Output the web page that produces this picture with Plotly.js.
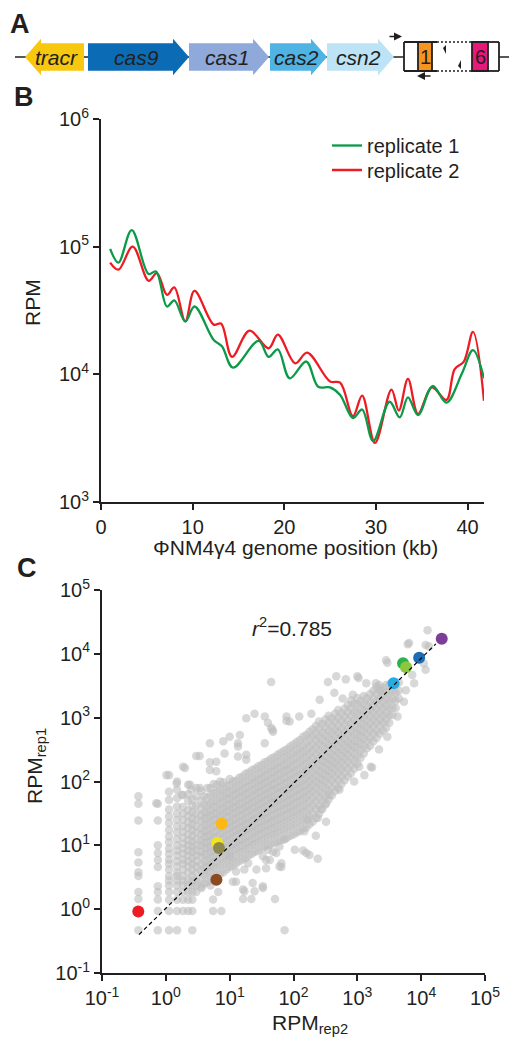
<!DOCTYPE html>
<html><head><meta charset="utf-8">
<script src="https://cdn.plot.ly/plotly-3.0.1.min.js"></script>
<style>html,body{margin:0;padding:0;background:#fff;}#chart{width:517px;height:1050px;}</style>
</head><body><div id="chart"></div>
<script>
// ================= DATA =================
// Panel A: type II-A CRISPR locus (map units)
const geneNames = ['tracr', 'cas9', 'cas1', 'cas2', 'csn2'];
const geneStart = [25, 88, 189, 270, 327];
const geneEnd = [84, 189, 269, 327, 394];
const geneStrand = [-1, 1, 1, 1, 1];
const geneColors = ['#F8C70F', '#0B6CB5', '#8EA9DA', '#4FB3E4', '#BCE3F6'];
const locusStart = 15, locusEnd = 509;
const arrayStart = 404, arrayEnd = 499;
const arrayGapStart = 437, arrayGapEnd = 471;
const spacerLabels = ['1', '6'];
const spacerStart = [418, 472];
const spacerEnd = [432, 488];
const spacerColors = ['#F7941D', '#E6197B'];
const primerFwd = [388, 402];
const primerRev = [432, 417];

// Panel B: coverage along phage genome (kb, RPM)
const rep1Kb = [1.0,1.9,3.35,5.2,6.0,7.2,8.0,9.2,10.2,12.3,13.2,14.4,17.2,18.3,19.3,20.6,22.4,23.7,25.0,26.1,27.5,28.5,29.7,31.5,32.6,33.5,34.6,36.2,37.7,39.4,40.6,41.8];
const rep1Rpm = [96000,75000,135000,61000,64000,34000,38000,26000,34000,18600,16600,11300,18300,13700,15700,9300,12600,8000,7900,6900,4550,5300,3000,6100,4600,6600,4800,8100,6000,10200,15500,9300];
const rep2Kb = [1.0,1.9,3.46,5.2,6.1,7.2,8.0,9.2,10.2,12.3,13.1,14.3,16.2,18.3,19.3,21.2,22.5,25.0,26.1,27.5,28.5,29.9,31.7,32.5,33.5,34.6,36.1,37.7,38.6,39.6,40.6,41.8];
const rep2Rpm = [75000,66000,100000,54000,62000,42000,48000,26000,45000,24500,25000,13700,22000,16000,20500,12200,14800,8800,8600,4700,6800,2900,7600,5200,9200,4900,7900,6300,11000,12600,21500,6200];
const xTicksB = [0, 10, 20, 30, 40];
const yTickValsB = [1e3, 1e4, 1e5, 1e6];
const yTickTextB = ['10<sup>3</sup>', '10<sup>4</sup>', '10<sup>5</sup>', '10<sup>6</sup>'];

// Panel C: spacer RPM, replicate 2 (x) vs replicate 1 (y), read in log10(RPM)
// low-count points sit in discrete columns of rep2
const colLog2 = [-0.43, -0.125, 0.05, 0.176, 0.27, 0.35, 0.415, 0.477];
const colLog1 = [
  [-0.33,0.16,0.27,0.52,0.58,0.73,0.89,1.39,1.65,1.77],
  [-0.33,-0.03,0.15,0.27,0.36,0.66,0.77,0.88,1.0,1.39,1.65],
  [-0.33,-0.03,0.146,0.27,0.37,0.45,0.52,0.62,0.71,0.78,0.87,0.95,1.05,1.14,1.24,1.35,1.45,1.56,1.71,1.84,2.10],
  [-0.33,-0.03,0.146,0.27,0.37,0.45,0.52,0.57,0.67,0.75,0.84,0.92,1.0,1.1,1.2,1.3,1.4,1.5,1.61,1.74,1.87,2.0],
  [-0.03,0.146,0.27,0.37,0.45,0.52,0.62,0.71,0.78,0.87,0.95,1.03,1.12,1.21,1.3,1.4,1.5,1.6,1.79,2.23],
  [0.146,0.27,0.37,0.45,0.57,0.67,0.75,0.84,0.92,1.0,1.08,1.17,1.27,1.36,1.46,1.55,1.7,1.8,1.95],
  [-0.33,0.146,0.27,0.37,0.45,0.52,0.62,0.71,0.8,0.9,0.98,1.06,1.15,1.24,1.33,1.42,1.52,1.62,1.72],
  [0.27,0.37,0.45,0.57,0.67,0.75,0.84,0.92,1.0,1.1,1.2,1.3,1.4,1.5,1.62,1.77,1.9,2.4]
];
// dense cloud, read slice by slice along rep2
const sliceLog2 = [0.55,0.60,0.65,0.70,0.75,0.80,0.85,0.90,0.95,1.00,1.05,1.10,1.15,1.20,1.25,1.30,1.35,1.40,1.45,1.50,1.55,1.60,1.65,1.70,1.75,1.80,1.85,1.90,1.95,2.00,2.05,2.10,2.15,2.20,2.25,2.30,2.35,2.40,2.45,2.50,2.55,2.60,2.65,2.70,2.75,2.80,2.85,2.90,2.95,3.00,3.05,3.10,3.15,3.20,3.25,3.30,3.35,3.40,3.45,3.50,3.55,3.60,3.65];
const sliceLog1 = [
  [0.35,0.47,0.6,0.7,0.82,0.9,1.0,1.08,1.18,1.27,1.38,1.47,1.58,1.7,1.85],
  [0.4,0.53,0.64,0.75,0.86,0.96,1.04,1.13,1.22,1.32,1.42,1.52,1.64,1.77],
  [0.42,0.55,0.66,0.76,0.86,0.95,1.05,1.14,1.23,1.33,1.43,1.52,1.63,1.75,1.9],
  [0.45,0.58,0.69,0.8,0.9,0.98,1.07,1.16,1.26,1.36,1.46,1.55,1.66,1.78,1.9],
  [0.5,0.63,0.74,0.83,0.92,1.02,1.12,1.2,1.3,1.4,1.5,1.6,1.7,1.82,1.96],
  [0.52,0.64,0.75,0.86,0.96,1.04,1.13,1.22,1.32,1.41,1.5,1.6,1.71,1.83,1.95],
  [0.55,0.68,0.8,0.9,1.0,1.08,1.18,1.27,1.36,1.46,1.55,1.65,1.76,1.88,2.0],
  [0.58,0.71,0.82,0.92,1.02,1.11,1.2,1.3,1.39,1.49,1.58,1.67,1.77,1.88,1.99],
  [0.62,0.75,0.86,0.96,1.06,1.15,1.25,1.34,1.44,1.53,1.62,1.72,1.82,1.93],
  [0.66,0.78,0.89,0.99,1.09,1.18,1.27,1.36,1.45,1.55,1.64,1.73,1.83,1.94,2.04],
  [0.68,0.8,0.92,1.02,1.12,1.22,1.31,1.4,1.5,1.59,1.68,1.78,1.88,2.0],
  [0.72,0.84,0.95,1.05,1.15,1.24,1.33,1.42,1.51,1.61,1.7,1.8,1.9,2.01],
  [0.75,0.88,0.98,1.08,1.18,1.27,1.36,1.46,1.55,1.64,1.74,1.84,1.94,2.06],
  [0.78,0.9,1.0,1.1,1.2,1.29,1.38,1.48,1.57,1.66,1.76,1.86,1.96,2.08],
  [0.8,0.93,1.04,1.14,1.24,1.33,1.42,1.52,1.61,1.7,1.8,1.9,2.0,2.12],
  [0.84,0.96,1.06,1.16,1.26,1.35,1.44,1.54,1.63,1.72,1.82,1.92,2.02,2.14],
  [0.87,1.0,1.1,1.2,1.3,1.39,1.48,1.58,1.67,1.76,1.86,1.96,2.06,2.18],
  [0.9,1.02,1.12,1.22,1.32,1.41,1.51,1.6,1.69,1.79,1.88,1.98,2.08,2.2],
  [0.92,1.05,1.16,1.26,1.36,1.45,1.55,1.64,1.73,1.83,1.92,2.02,2.12,2.24],
  [0.95,1.07,1.18,1.28,1.38,1.47,1.57,1.66,1.75,1.85,1.94,2.04,2.14,2.26],
  [0.98,1.1,1.21,1.31,1.41,1.51,1.6,1.7,1.79,1.88,1.98,2.08,2.18,2.3],
  [1.0,1.12,1.23,1.33,1.43,1.53,1.62,1.72,1.81,1.91,2.0,2.1,2.2,2.32],
  [1.02,1.15,1.26,1.36,1.46,1.56,1.66,1.75,1.85,1.94,2.04,2.14,2.24,2.36],
  [1.04,1.16,1.27,1.38,1.48,1.58,1.68,1.77,1.87,1.96,2.06,2.16,2.26,2.38],
  [1.06,1.19,1.3,1.41,1.51,1.61,1.71,1.81,1.9,2.0,2.1,2.2,2.3,2.42],
  [1.08,1.2,1.32,1.43,1.53,1.63,1.73,1.83,1.92,2.02,2.12,2.22,2.33,2.45],
  [1.1,1.23,1.35,1.46,1.56,1.66,1.76,1.86,1.96,2.06,2.16,2.26,2.37,2.48],
  [1.12,1.25,1.37,1.48,1.58,1.68,1.78,1.88,1.98,2.08,2.18,2.28,2.39,2.51],
  [1.15,1.28,1.4,1.51,1.61,1.71,1.81,1.91,2.01,2.11,2.21,2.32,2.43,2.55],
  [1.17,1.3,1.42,1.53,1.64,1.74,1.84,1.94,2.04,2.14,2.24,2.35,2.46,2.58],
  [1.2,1.33,1.45,1.56,1.67,1.77,1.87,1.97,2.07,2.17,2.28,2.39,2.5,2.62],
  [1.22,1.35,1.47,1.58,1.69,1.79,1.89,1.99,2.1,2.2,2.31,2.42,2.53,2.65],
  [1.26,1.39,1.51,1.62,1.73,1.83,1.93,2.03,2.13,2.24,2.35,2.46,2.57,2.7],
  [1.28,1.41,1.53,1.64,1.75,1.85,1.95,2.05,2.16,2.27,2.38,2.49,2.61,2.73],
  [1.33,1.46,1.58,1.69,1.8,1.9,2.0,2.1,2.21,2.32,2.43,2.54,2.66,2.78],
  [1.37,1.5,1.62,1.73,1.84,1.94,2.04,2.14,2.25,2.36,2.47,2.58,2.7,2.82],
  [1.43,1.56,1.68,1.79,1.9,2.0,2.1,2.2,2.31,2.42,2.53,2.64,2.75,2.87],
  [1.49,1.62,1.74,1.85,1.96,2.06,2.16,2.26,2.37,2.48,2.59,2.7,2.82,2.94],
  [1.57,1.7,1.82,1.93,2.03,2.13,2.23,2.33,2.44,2.55,2.66,2.77,2.9],
  [1.64,1.77,1.89,2.0,2.1,2.2,2.3,2.4,2.51,2.62,2.73,2.85,2.97],
  [1.72,1.85,1.96,2.07,2.17,2.27,2.37,2.47,2.58,2.69,2.8,2.92,3.03],
  [1.78,1.9,2.02,2.13,2.23,2.33,2.43,2.54,2.65,2.76,2.87,2.99],
  [1.85,1.97,2.08,2.19,2.29,2.39,2.49,2.6,2.71,2.82,2.94,3.06],
  [1.9,2.02,2.13,2.24,2.34,2.45,2.55,2.66,2.77,2.88,3.0,3.12],
  [1.96,2.08,2.19,2.3,2.4,2.5,2.61,2.72,2.83,2.95,3.07],
  [2.02,2.14,2.25,2.36,2.46,2.57,2.67,2.78,2.9,3.02,3.14],
  [2.08,2.2,2.31,2.42,2.52,2.62,2.73,2.84,2.96,3.08,3.2],
  [2.13,2.25,2.37,2.48,2.58,2.69,2.8,2.91,3.03,3.15,3.27],
  [2.2,2.32,2.43,2.54,2.64,2.75,2.86,2.97,3.09,3.22],
  [2.28,2.4,2.52,2.63,2.74,2.85,2.96,3.08,3.2,3.31],
  [2.37,2.49,2.6,2.71,2.81,2.92,3.03,3.14,3.26],
  [2.44,2.56,2.67,2.78,2.89,3.0,3.11,3.22,3.34],
  [2.52,2.64,2.75,2.86,2.97,3.08,3.19,3.31],
  [2.56,2.68,2.8,2.91,3.02,3.13,3.25,3.37],
  [2.63,2.75,2.86,2.97,3.08,3.19,3.3,3.42],
  [2.68,2.8,2.92,3.03,3.14,3.25,3.37,3.48],
  [2.75,2.87,2.98,3.09,3.2,3.31,3.43],
  [2.8,2.92,3.03,3.14,3.25,3.36,3.47],
  [2.84,2.96,3.07,3.18,3.29,3.4,3.51],
  [2.92,3.04,3.16,3.28,3.4,3.52],
  [3.04,3.16,3.28,3.4,3.52],
  [3.15,3.27,3.39,3.5],
  [3.3,3.42,3.55]
];
// scattered individual points (log10 rep2, log10 rep1)
const looseLog2 = [1.65,2.54,2.67,2.82,3.00,3.02,2.41,2.64,2.77,2.93,3.14,3.29,3.34,3.37,3.45,3.47,3.81,4.07,4.10,3.79,4.12,4.04,4.07,3.86,3.89,3.76,3.73,3.63,3.47,3.34,3.21,2.95,3.11,3.03,3.23,
  1.26,1.39,1.89,1.94,2.09,2.28,1.65,1.68,0.69,0.90,1.00,1.16,0.53,0.69,0.30,0.01,0.17,0.40,-0.15,0.25,0.79,0.79,0.92,1.13,1.13,1.13,1.26,1.26,1.55,1.60,1.67,1.55,1.89,0.53,0.69,0.38,
  2.72,2.56,2.51,2.43,2.51,2.38,2.22,2.17,2.35,2.02,2.15,2.25,2.38,1.86,1.78,1.73,1.60,1.52,1.63,1.81,1.78,1.71,1.86,0.74,0.87,1.21,1.34,1.05,1.21,1.36,1.52,2.20,1.00,1.10,1.23,1.29,1.42,1.57,1.57,1.81,1.23,1.39,1.52,1.10,0.56,1.68,0.74,0.82,0.70,0.35,0.415];
const looseLog1 = [3.56,3.56,3.65,3.60,3.65,3.62,3.28,3.39,3.30,3.36,3.54,3.54,3.51,3.43,3.90,3.86,4.17,4.14,4.37,4.15,4.12,3.85,3.75,3.67,3.54,3.43,3.25,3.02,2.70,2.50,2.23,2.00,2.10,2.23,2.22,
  2.99,3.06,3.02,2.94,3.02,3.06,2.84,2.78,2.60,2.63,2.70,2.73,2.40,2.30,2.21,2.10,1.97,1.87,1.66,1.79,2.31,2.16,2.44,2.60,2.55,2.39,2.42,2.34,3.02,2.92,2.81,2.60,2.95,1.90,2.18,1.95,
  1.87,1.79,1.66,1.56,1.37,1.43,1.40,1.22,1.15,0.93,0.92,0.85,0.79,1.09,0.98,0.88,0.93,0.83,0.77,0.72,0.67,0.16,-0.33,-0.03,-0.03,0.16,0.16,0.43,0.31,0.41,0.33,0.88,0.83,0.59,0.62,0.72,0.62,0.77,0.64,0.66,0.28,0.28,0.36,0.43,0.33,0.90,0.15,0.27,0.37,-0.03,-0.03];
// highlighted spacers (RPM)
const hlRep2 = [0.37, 7.5, 6.4, 6.8, 6.2, 3700, 5200, 5800, 9300, 21000];
const hlRep1 = [0.92, 21.8, 10.9, 9.1, 2.9, 3450, 7100, 6150, 8700, 17300];
const hlColors = ['#ED1C24', '#FDB813', '#F3E51C', '#8E884C', '#8C4A20', '#2AAAE2', '#2DB14B', '#8DC63F', '#1B6CB4', '#7B3F98'];
const fitRep2 = [0.38, 17000];
const fitRep1 = [0.40, 14300];
const rSquared = '0.785';
const logTickVals = [0.1, 1, 10, 100, 1e3, 1e4, 1e5];
const logTickText = ['10<sup>-1</sup>', '10<sup>0</sup>', '10<sup>1</sup>', '10<sup>2</sup>', '10<sup>3</sup>', '10<sup>4</sup>', '10<sup>5</sup>'];

// ================= BUILD =================
const INK = '#231F20';
const FONT = 'Liberation Sans, Arial, Helvetica, sans-serif';
const W = 517, H = 1050;
const px = v => v / W, py = v => 1 - v / H;

const grayL2 = [], grayL1 = [];
colLog2.forEach((c, i) => colLog1[i].forEach(v => { grayL2.push(c); grayL1.push(v); }));
sliceLog2.forEach((c, i) => sliceLog1[i].forEach(v => { grayL2.push(c); grayL1.push(v); }));
looseLog2.forEach((v, i) => { grayL2.push(v); grayL1.push(looseLog1[i]); });
const toLin = v => Math.pow(10, v);

const traces = [
  { x: rep2Kb, y: rep2Rpm, xaxis: 'x', yaxis: 'y', mode: 'lines', name: 'replicate 2', legend: 'legend2',
    line: { color: '#ED1C24', width: 2.3, shape: 'spline', smoothing: 1 } },
  { x: rep1Kb, y: rep1Rpm, xaxis: 'x', yaxis: 'y', mode: 'lines', name: 'replicate 1', legend: 'legend',
    line: { color: '#0A9A48', width: 2.3, shape: 'spline', smoothing: 1 } },
  { x: grayL2.map(toLin), y: grayL1.map(toLin), xaxis: 'x2', yaxis: 'y2', mode: 'markers', showlegend: false,
    marker: { size: 8.5, color: 'rgb(190,190,190)', opacity: 0.6, line: { width: 0 } } },
  { x: hlRep2, y: hlRep1, xaxis: 'x2', yaxis: 'y2', mode: 'markers', showlegend: false,
    marker: { size: 12, color: hlColors, opacity: 1, line: { width: 0 } } },
  { x: fitRep2, y: fitRep1, xaxis: 'x2', yaxis: 'y2', mode: 'lines', showlegend: false,
    line: { color: '#000', width: 1.2, dash: '4px,3px' } }
];

// Panel A shapes
const shapes = [];
const BODY = 13.7, HEAD = 18.3, HEADLEN = 16;
shapes.push({ type: 'line', xref: 'x3', yref: 'y3', x0: locusStart, x1: locusEnd, y0: 0, y1: 0, line: { color: INK, width: 1.6 } });
geneNames.forEach((g, i) => {
  const L = geneStart[i], R = geneEnd[i];
  let p;
  if (geneStrand[i] > 0) {
    const h = R - HEADLEN;
    p = `M${L},${-BODY} L${h},${-BODY} L${h},${-HEAD} L${R},0 L${h},${HEAD} L${h},${BODY} L${L},${BODY} Z`;
  } else {
    const h = L + HEADLEN;
    p = `M${R},${-BODY} L${h},${-BODY} L${h},${-HEAD} L${L},0 L${h},${HEAD} L${h},${BODY} L${R},${BODY} Z`;
  }
  shapes.push({ type: 'path', xref: 'x3', yref: 'y3', path: p, fillcolor: geneColors[i], line: { width: 0 } });
});
const BT = 15, BB = -14;
shapes.push({ type: 'rect', xref: 'x3', yref: 'y3', x0: arrayStart, x1: arrayEnd, y0: BB, y1: BT, fillcolor: '#fff', line: { width: 0 } });
const solid = { color: INK, width: 1.8 };
[[arrayStart, arrayStart, BB, BT], [arrayEnd, arrayEnd, BB, BT],
 [arrayStart, arrayGapStart, BT, BT], [arrayStart, arrayGapStart, BB, BB],
 [arrayGapEnd, arrayEnd, BT, BT], [arrayGapEnd, arrayEnd, BB, BB]].forEach(s =>
  shapes.push({ type: 'line', xref: 'x3', yref: 'y3', x0: s[0], x1: s[1], y0: s[2], y1: s[3], line: solid }));
[BT, BB].forEach(yy => shapes.push({ type: 'line', xref: 'x3', yref: 'y3', x0: arrayGapStart, x1: arrayGapEnd, y0: yy, y1: yy, line: { color: INK, width: 1.6, dash: '2px,2px' } }));
spacerLabels.forEach((s, i) => shapes.push({ type: 'rect', xref: 'x3', yref: 'y3', x0: spacerStart[i], x1: spacerEnd[i], y0: BB, y1: BT, fillcolor: spacerColors[i], line: solid }));
shapes.push({ type: 'path', xref: 'x3', yref: 'y3', path: 'M443,9 L446,12 L446,3 Z', fillcolor: INK, line: { width: 0 } });
shapes.push({ type: 'path', xref: 'x3', yref: 'y3', path: 'M458,-9 L461,-12 L461,-3 Z', fillcolor: INK, line: { width: 0 } });

const annotations = [];
geneNames.forEach((g, i) => annotations.push({ xref: 'x3', yref: 'y3', x: (geneStart[i] + geneEnd[i]) / 2 - geneStrand[i] * 2, y: 0,
  text: '<i>' + g + '</i>', showarrow: false, font: { family: FONT, size: 21, color: INK }, xanchor: 'center', yanchor: 'middle' }));
spacerLabels.forEach((s, i) => annotations.push({ xref: 'x3', yref: 'y3', x: (spacerStart[i] + spacerEnd[i]) / 2, y: 0,
  text: s, showarrow: false, font: { family: FONT, size: 20, color: INK }, xanchor: 'center', yanchor: 'middle' }));
annotations.push({ xref: 'x3', yref: 'y3', axref: 'x3', ayref: 'y3', x: primerFwd[1], y: 20.5, ax: primerFwd[0], ay: 20.5, text: '',
  showarrow: true, arrowhead: 2, arrowsize: 1, arrowwidth: 1.6, arrowcolor: INK });
annotations.push({ xref: 'x3', yref: 'y3', axref: 'x3', ayref: 'y3', x: primerRev[1], y: -19, ax: primerRev[0], ay: -19, text: '',
  showarrow: true, arrowhead: 2, arrowsize: 1, arrowwidth: 1.6, arrowcolor: INK });

[['A', 8, 23.5], ['B', 12, 96.7], ['C', 15, 568]].forEach(a => annotations.push({ xref: 'paper', yref: 'paper', x: px(a[1]), y: py(a[2]),
  text: '<b>' + a[0] + '</b>', showarrow: false, xanchor: 'left', yanchor: 'middle', font: { family: FONT, size: 27, color: INK } }));
const tf = { family: FONT, size: 21, color: INK };
annotations.push({ xref: 'paper', yref: 'paper', x: px(295), y: py(547), text: 'ΦNM4γ4 genome position (kb)', showarrow: false, xanchor: 'center', yanchor: 'middle', font: tf });
annotations.push({ xref: 'paper', yref: 'paper', x: px(32.5), y: py(302.5), text: 'RPM', textangle: -90, showarrow: false, xanchor: 'center', yanchor: 'middle', font: tf });
annotations.push({ xref: 'paper', yref: 'paper', x: px(36), y: py(766), text: 'RPM<sub>rep1</sub>', textangle: -90, showarrow: false, xanchor: 'center', yanchor: 'middle', font: tf });
annotations.push({ xref: 'paper', yref: 'paper', x: px(310), y: py(1024), text: 'RPM<sub>rep2</sub>', showarrow: false, xanchor: 'center', yanchor: 'middle', font: tf });
annotations.push({ xref: 'paper', yref: 'paper', x: px(292), y: py(627), text: '<i>r</i><sup>2</sup>=' + rSquared, showarrow: false, xanchor: 'center', yanchor: 'middle', font: tf });

const axBase = { showgrid: false, zeroline: false, showline: true, linewidth: 2, linecolor: INK, ticks: 'outside', ticklen: 6, tickwidth: 2, tickcolor: INK,
  tickfont: { family: FONT, size: 20, color: INK } };
const legBase = { xanchor: 'left', yanchor: 'top', bgcolor: 'rgba(0,0,0,0)', font: { family: FONT, size: 20, color: INK } };

const layout = {
  width: W, height: H, margin: { l: 0, r: 0, t: 0, b: 0 }, paper_bgcolor: '#fff', plot_bgcolor: 'rgba(0,0,0,0)',
  font: { family: FONT, color: INK },
  showlegend: true,
  legend: Object.assign({}, legBase, { x: px(327), y: py(126) }),
  legend2: Object.assign({}, legBase, { x: px(327), y: py(150.5) }),
  xaxis: Object.assign({}, axBase, { domain: [px(101), px(484)], anchor: 'y', range: [0, 41.8], tickmode: 'array', tickvals: xTicksB }),
  yaxis: Object.assign({}, axBase, { domain: [py(502), py(119)], anchor: 'x', type: 'log', range: [3, 6], tickmode: 'array', tickvals: yTickValsB, ticktext: yTickTextB }),
  xaxis2: Object.assign({}, axBase, { domain: [px(102), px(485)], anchor: 'y2', type: 'log', range: [-1, 5], tickmode: 'array', tickvals: logTickVals, ticktext: logTickText }),
  yaxis2: Object.assign({}, axBase, { domain: [py(973), py(590)], anchor: 'x2', type: 'log', range: [-1, 5], tickmode: 'array', tickvals: logTickVals, ticktext: logTickText }),
  xaxis3: { domain: [0, 1], anchor: 'y3', range: [0, W], visible: false, fixedrange: true },
  yaxis3: { domain: [py(89), py(25)], anchor: 'x3', range: [-32, 32], visible: false, fixedrange: true },
  shapes: shapes, annotations: annotations
};

Plotly.newPlot('chart', traces, layout, { staticPlot: true, displayModeBar: false });
</script></body></html>
